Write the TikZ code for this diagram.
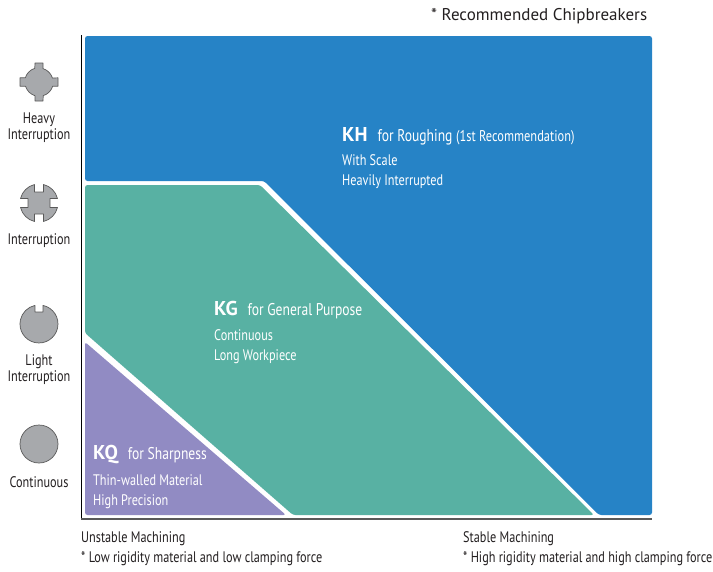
\documentclass[tikz,border=0pt]{standalone}
\usepackage{xcolor}
\usepackage{fontspec}
\setmainfont{PT Sans}
\newfontfamily\narrowfont[FakeStretch=0.8]{PT Sans}
\newfontfamily\narrowbold[FakeStretch=1.0]{PT Sans Bold}
\definecolor{khblue}{HTML}{2683C6}
\definecolor{kggreen}{HTML}{58B1A3}
\definecolor{kqpurple}{HTML}{918BC3}
\definecolor{icongray}{HTML}{A7A9AC}
\definecolor{inkgray}{HTML}{231F20}
\newcommand{\grade}[2]{{\fontsize{20}{20}\selectfont\narrowbold #1}\hspace{10pt}#2}
\begin{document}
\begin{tikzpicture}[
    x = 1pt, y = -1pt,
    zone/.style = {rounded corners=2.5pt, draw=none},
    icon/.style = {draw=black!65, line width=0.7pt, fill=icongray, line join=round},
    every node/.style = {inner sep=0pt, text=inkgray, font=\narrowfont\fontsize{15.3}{16}\selectfont},
    rowlabel/.style = {align=center, anchor=center},
    zonehead/.style = {text=white, anchor=base west, font=\narrowfont\fontsize{17}{18}\selectfont},
    zonetext/.style = {text=white, anchor=base west, align=left, font=\narrowfont\fontsize{15.3}{20}\selectfont},
    axislabel/.style = {anchor=base west}
  ]
    \useasboundingbox (0,0) rectangle (713,571);

    % zones
    \fill[zone, khblue] (85,36) -- (652,36) -- (652,515) -- (599,515) -- (264,181) -- (85,181) -- cycle;
    \fill[zone, kggreen] (85,185) -- (260,185) -- (594,515) -- (293,515) -- (85,333) -- cycle;
    \fill[zone, kqpurple] (85,342) -- (286,515) -- (85,515) -- cycle;

    % axes
    \draw[line width=1pt, black] (81,35) -- (81,519);
    \draw[line width=1.6pt, black!65] (81,519) -- (652,519);

    % icons
    \draw[icon] (43,63) -- (43,68.6) arc (-72.9:-17.1:14.3) -- (58,77.8) -- (58,86.2) -- (52.7,86.2)
      arc (17.1:72.9:14.3) -- (43,101) -- (35,101) -- (35,95.7) arc (107.1:162.9:14.3) -- (20,86.2)
      -- (20,77.8) -- (25.3,77.8) arc (197.1:252.9:14.3) -- (35,63) -- cycle;
    \draw[icon] (43.5,184.5) arc (-76.3:-13.7:19) -- (50,198.5) -- (50,207.5) -- (57.5,207.5)
      arc (13.7:76.3:19) -- (43.5,214) -- (34.5,214) -- (34.5,221.5) arc (103.7:166.3:19)
      -- (28,207.5) -- (28,198.5) -- (20.5,198.5) arc (193.7:256.3:19) -- (34.5,192) -- (43.5,192) -- cycle;
    \draw[icon] (43,305.4) arc (-77.8:257.8:19) -- (35,312) -- (43,312) -- cycle;
    \draw[icon] (39,444) circle (19);

    % row labels
    \node[rowlabel] (heavy) at (39,127.5) {Heavy\\Interruption};
    \node[rowlabel] (interruption) at (39,241) {Interruption};
    \node[rowlabel] (light) at (39,369.5) {Light\\Interruption};
    \node[rowlabel] (continuous) at (39,482) {Continuous};

    % zone texts
    \node[zonehead] (kh) at (342,141) {\grade{KH}{for Roughing} {\fontsize{15.5}{15}\selectfont(1st Recommendation)}};
    \node[zonetext] (khnote) at (342,185) {With Scale\\Heavily Interrupted};
    \node[zonehead] (kg) at (214,315) {\grade{KG}{for General Purpose}};
    \node[zonetext] (kgnote) at (214,360) {Continuous\\Long Workpiece};
    \node[zonehead] (kq) at (93,459) {\grade{KQ}{for Sharpness}};
    \node[zonetext] (kqnote) at (93,505) {Thin-walled Material\\High Precision};

    % axis texts
    \node[axislabel] (unstable) at (81,542) {Unstable Machining};
    \node[axislabel] (unstablenote) at (81,562) {* Low rigidity material and low clamping force};
    \node[axislabel] (stable) at (463,542) {Stable Machining};
    \node[axislabel] (stablenote) at (463,562) {* High rigidity material and high clamping force};
    \node[axislabel, font=\fontsize{17}{18}\selectfont] (chipbreakers) at (431,20) {* Recommended Chipbreakers};
\end{tikzpicture}
\end{document}
